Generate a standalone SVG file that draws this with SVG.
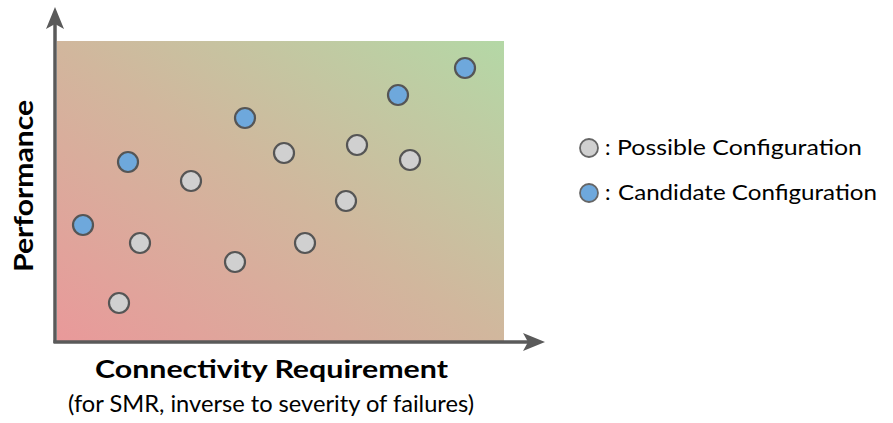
<svg xmlns="http://www.w3.org/2000/svg" width="893" height="423" viewBox="0 0 893 423">
<style>
.pt{stroke:#555;stroke-width:2.2}
.gray{fill:#d0d0d0}
.blue{fill:#6ea8dc}
.ax{stroke:#5a5a5a;stroke-width:3.5;fill:none}
.t{font-family:Lato,"Open Sans","DejaVu Sans",sans-serif;fill:#000}
.b{font-weight:700}
</style>
<defs>
<linearGradient id="bg" x1="0" y1="1" x2="1" y2="0">
<stop offset="0" stop-color="#e9999a"/>
<stop offset="0.5" stop-color="#d1b79d"/>
<stop offset="1" stop-color="#b4d8a6"/>
</linearGradient>
</defs>
<rect x="57" y="41" width="447" height="300" fill="url(#bg)"/>
<g id="connectors">
<line class="ax" x1="55" y1="343" x2="55" y2="22"/>
<line class="ax" x1="53.5" y1="342" x2="530" y2="342"/>
<path d="M55 7 L64 29 L55 24 L46 29 Z" fill="#5a5a5a"/>
<path d="M545 342 L523 333 L528 342 L523 351 Z" fill="#5a5a5a"/>
</g>
<g id="points">
<circle id="b1" class="pt blue" cx="83" cy="225" r="10"/>
<circle id="b2" class="pt blue" cx="128" cy="162" r="10"/>
<circle id="b3" class="pt blue" cx="245" cy="118" r="10"/>
<circle id="b4" class="pt blue" cx="398" cy="95" r="10"/>
<circle id="b5" class="pt blue" cx="465" cy="68" r="10"/>
<circle id="g1" class="pt gray" cx="119" cy="303" r="10"/>
<circle id="g2" class="pt gray" cx="140" cy="243" r="10"/>
<circle id="g3" class="pt gray" cx="191" cy="181" r="10"/>
<circle id="g4" class="pt gray" cx="235" cy="262" r="10"/>
<circle id="g5" class="pt gray" cx="284" cy="153" r="10"/>
<circle id="g6" class="pt gray" cx="305" cy="243" r="10"/>
<circle id="g7" class="pt gray" cx="346" cy="201" r="10"/>
<circle id="g8" class="pt gray" cx="357" cy="145" r="10"/>
<circle id="g9" class="pt gray" cx="410" cy="160" r="10"/>
</g>
<g id="legend">
<circle cx="589" cy="148" r="9" class="gray" stroke="#666" stroke-width="1.8"/>
<text class="t" x="605" y="155" font-size="22">:</text>
<text class="t" x="617" y="155" font-size="22" textLength="245" lengthAdjust="spacingAndGlyphs">Possible Configuration</text>
<circle cx="589" cy="193" r="9" class="blue" stroke="#666" stroke-width="1.8"/>
<text class="t" x="605" y="200" font-size="22">:</text>
<text class="t" x="618" y="200" font-size="22" textLength="259" lengthAdjust="spacingAndGlyphs">Candidate Configuration</text>
</g>
<g id="labels">
<text class="t b" transform="translate(33,186) rotate(-90)" text-anchor="middle" font-size="26" textLength="172" lengthAdjust="spacingAndGlyphs">Performance</text>
<text class="t b" x="271.5" y="378" text-anchor="middle" font-size="25" textLength="353" lengthAdjust="spacingAndGlyphs">Connectivity Requirement</text>
<text class="t" x="271" y="412" text-anchor="middle" font-size="23" textLength="406" lengthAdjust="spacingAndGlyphs">(for SMR, inverse to severity of failures)</text>
</g>
</svg>
